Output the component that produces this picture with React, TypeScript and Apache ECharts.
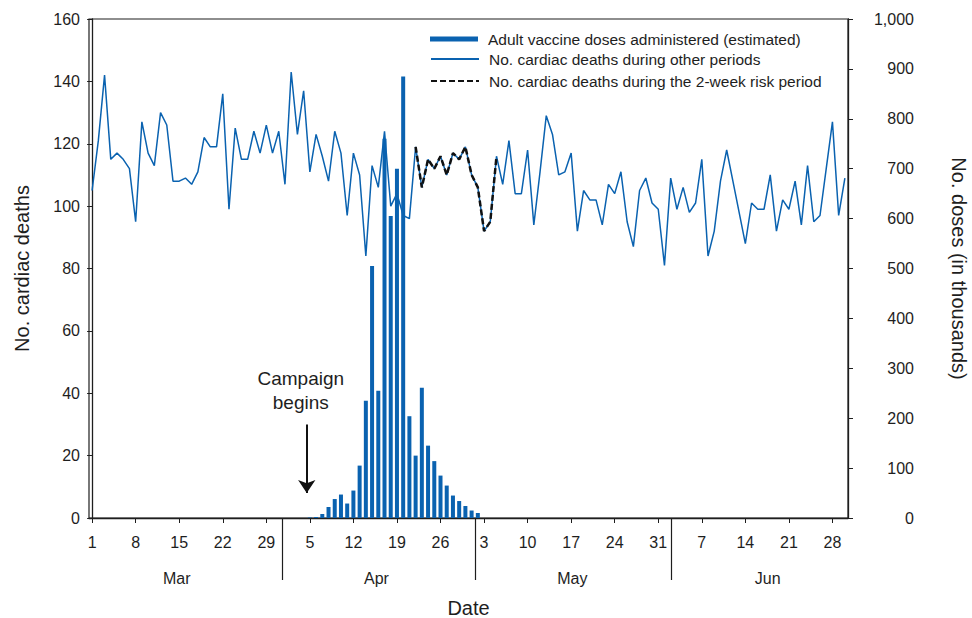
import React, { useEffect, useRef } from "react";
import * as echarts from "echarts";

// ---------- data ----------
const START_MONTH_NAMES = ["Mar", "Apr", "May", "Jun"];
const MONTH_LENGTHS = [31, 30, 31, 30];

// daily number of cardiac deaths, Mar 1 .. Jun 30
const DEATHS = [
  105, 121, 142, 115, 117, 115, 112, 95, 127, 117, 113, 130, 126, 108, 108, 109, 107, 111, 122, 119,
  119, 136, 99, 125, 115, 115, 124, 117, 126, 117, 124, 107, 143, 123, 137, 111, 123, 116, 108, 124,
  117, 97, 117, 110, 84, 113, 106, 124, 100, 104, 97, 96, 119, 106, 115, 112, 116, 110, 117, 115,
  119, 110, 106, 92, 95, 116, 107, 121, 104, 104, 118, 94, 111, 129, 123, 110, 111, 117, 92, 105,
  102, 102, 94, 107, 104, 111, 95, 87, 105, 109, 101, 99, 81, 109, 99, 106, 98, 101, 115, 84,
  92, 108, 118, 108, 98, 88, 101, 99, 99, 110, 92, 102, 99, 108, 94, 113, 95, 97, 112, 127, 97, 109,
];

// 2-week risk period: Apr 22 .. May 5 (day indices from Mar 1)
const RISK_FIRST_DAY = 52;
const RISK_LAST_DAY = 65;

// adult vaccine doses administered (thousands), daily from Apr 5
const DOSE_FIRST_DAY = 35;
const DOSES = [
  1, 2, 8, 22, 38, 47, 29, 55, 105, 235, 505, 255, 760, 605, 700, 885, 204, 125, 261, 145,
  114, 85, 65, 45, 34, 24, 15, 10,
];

const TICK_DAYS = [0, 7, 14, 21, 28, 35, 42, 49, 56, 63, 70, 77, 84, 91, 98, 105, 112, 119];
const CAMPAIGN_DAY = 34.5;
const MONTH_DIVIDERS = [30.5, 61.6, 93];
const MONTH_LABEL_AT = [13.6, 45.7, 77.2, 108.6];

const DOSE_NAME = "Adult vaccine doses administered (estimated)";
const LINE_NAME = "No. cardiac deaths during other periods";
const RISK_NAME = "No. cardiac deaths during the 2-week risk period";

// ---------- styles ----------
const FONT = "'Liberation Sans', Arial, Helvetica, sans-serif";
const BLUE = "#0a62b0";
const INK = "#1e1e1e";

function dayOfMonth(idx: number): number {
  let d = Math.round(idx);
  for (let m = 0; m < MONTH_LENGTHS.length; m++) {
    if (d < MONTH_LENGTHS[m]) return d + 1;
    d -= MONTH_LENGTHS[m];
  }
  return d + 1;
}

export default function App() {
  const ref = useRef<HTMLDivElement>(null);

  useEffect(() => {
    if (!ref.current) return;
    const chart = echarts.init(ref.current, undefined, { renderer: "svg" });

    const lineData = DEATHS.map((v, i) => [i, v]);
    const riskData = DEATHS.map((v, i) => [i, i >= RISK_FIRST_DAY && i <= RISK_LAST_DAY ? v : null]);
    const doseData = DOSES.map((v, i) => [DOSE_FIRST_DAY + i, v]);

    const legendBase = {
      left: 430,
      orient: "vertical",
      padding: 0,
      itemWidth: 48,
      itemHeight: 14,
      selectedMode: false,
      textStyle: { fontSize: 15.5, color: INK, fontFamily: FONT, padding: [0, 0, 0, 5] },
    };
    const noSymbol = { opacity: 0, color: "transparent", borderWidth: 0 };

    const option: any = {
      animation: false,
      textStyle: { fontFamily: FONT },
      grid: {
        left: 89,
        right: 124,
        top: 19,
        bottom: 100,
        containLabel: false,
        outerBoundsMode: "none",
        show: true,
        borderColor: INK,
        borderWidth: 1.2,
        backgroundColor: "transparent",
      },
      legend: [
        { ...legendBase, top: 31, itemHeight: 5, data: [{ name: DOSE_NAME, icon: "rect" }] },
        { ...legendBase, top: 51, data: [{ name: LINE_NAME, itemStyle: noSymbol }] },
        { ...legendBase, top: 73, data: [{ name: RISK_NAME, itemStyle: noSymbol }] },
      ],
      xAxis: {
        type: "value",
        min: -0.5,
        max: 121.5,
        splitLine: { show: false },
        axisLine: { show: true, onZero: false, lineStyle: { color: INK, width: 1.3 } },
        axisTick: { show: true, customValues: TICK_DAYS, length: 5, lineStyle: { color: INK } },
        axisLabel: {
          customValues: TICK_DAYS,
          formatter: (v: number) => String(dayOfMonth(v)),
          fontSize: 16,
          color: INK,
          margin: 16,
          fontFamily: FONT,
        },
        name: "Date",
        nameLocation: "middle",
        nameGap: 80,
        nameTextStyle: { fontSize: 20, color: INK, fontFamily: FONT },
      },
      yAxis: [
        {
          type: "value",
          min: 0,
          max: 160,
          interval: 20,
          position: "left",
          splitLine: { show: false },
          axisLine: { show: true, lineStyle: { color: INK, width: 1.3 } },
          axisTick: { show: true, length: 5, lineStyle: { color: INK } },
          axisLabel: { fontSize: 16, color: INK, margin: 9, fontFamily: FONT },
          name: "No. cardiac deaths",
          nameLocation: "middle",
          nameGap: 57,
          nameRotate: 90,
          nameTextStyle: { fontSize: 20, color: INK, fontFamily: FONT },
        },
        {
          type: "value",
          min: 0,
          max: 1000,
          interval: 100,
          position: "right",
          splitLine: { show: false },
          axisLine: { show: true, lineStyle: { color: INK, width: 1.3 } },
          axisTick: { show: true, length: 5, lineStyle: { color: INK } },
          axisLabel: {
            fontSize: 16,
            color: INK,
            align: "right",
            margin: 66,
            fontFamily: FONT,
            formatter: (v: number) => v.toLocaleString("en-US"),
          },
          name: "No. doses (in thousands)",
          nameLocation: "middle",
          nameGap: 101,
          nameRotate: -90,
          nameTextStyle: { fontSize: 20, color: INK, fontFamily: FONT },
        },
      ],
      series: [
        {
          name: DOSE_NAME,
          type: "bar",
          yAxisIndex: 1,
          data: doseData,
          barWidth: 4,
          itemStyle: { color: BLUE },
          silent: true,
          z: 1,
        },
        {
          name: LINE_NAME,
          type: "line",
          yAxisIndex: 0,
          data: lineData,
          symbol: "none",
          lineStyle: { color: BLUE, width: 1.5 },
          itemStyle: { color: BLUE },
          silent: true,
          z: 2,
          markLine: {
            silent: true,
            symbol: ["none", "arrow"],
            symbolSize: 13,
            label: { show: false },
            lineStyle: { color: "#111", width: 2, type: "solid" },
            data: [[{ coord: [CAMPAIGN_DAY, 30] }, { coord: [CAMPAIGN_DAY, 8] }]],
          },
        },
        {
          name: RISK_NAME,
          type: "line",
          yAxisIndex: 0,
          data: riskData,
          connectNulls: false,
          symbol: "none",
          lineStyle: { color: "#111", width: 2.5, type: [6, 3] },
          itemStyle: { color: "#111" },
          silent: true,
          z: 3,
        },
      ],
    };

    chart.setOption(option);

    const px = (v: number) => chart.convertToPixel({ xAxisIndex: 0 }, v) as number;
    const py = (v: number) => chart.convertToPixel({ yAxisIndex: 0 }, v) as number;
    const y0 = py(0);
    const graphics: any[] = [];
    MONTH_DIVIDERS.forEach((d) => {
      const x = Math.round(px(d)) + 0.5;
      graphics.push({
        type: "line",
        silent: true,
        shape: { x1: x, y1: y0, x2: x, y2: y0 + 62 },
        style: { stroke: INK, lineWidth: 1.2 },
      });
    });
    START_MONTH_NAMES.forEach((m, i) => {
      graphics.push({
        type: "text",
        silent: true,
        x: px(MONTH_LABEL_AT[i]),
        y: y0 + 60,
        style: {
          text: m,
          fontSize: 16,
          fontFamily: FONT,
          fill: INK,
          align: "center",
          verticalAlign: "middle",
        },
      });
    });
    graphics.push({
      type: "text",
      silent: true,
      x: px(CAMPAIGN_DAY) - 6,
      y: py(41),
      style: {
        text: "Campaign\nbegins",
        fontSize: 19,
        lineHeight: 24,
        fontFamily: FONT,
        fill: INK,
        align: "center",
        verticalAlign: "middle",
      },
    });
    chart.setOption({ graphic: graphics });

    return () => chart.dispose();
  }, []);

  return (
    <div
      ref={ref}
      style={{ position: "absolute", left: 0, top: 0, width: 972, height: 618, background: "#fff" }}
    />
  );
}
